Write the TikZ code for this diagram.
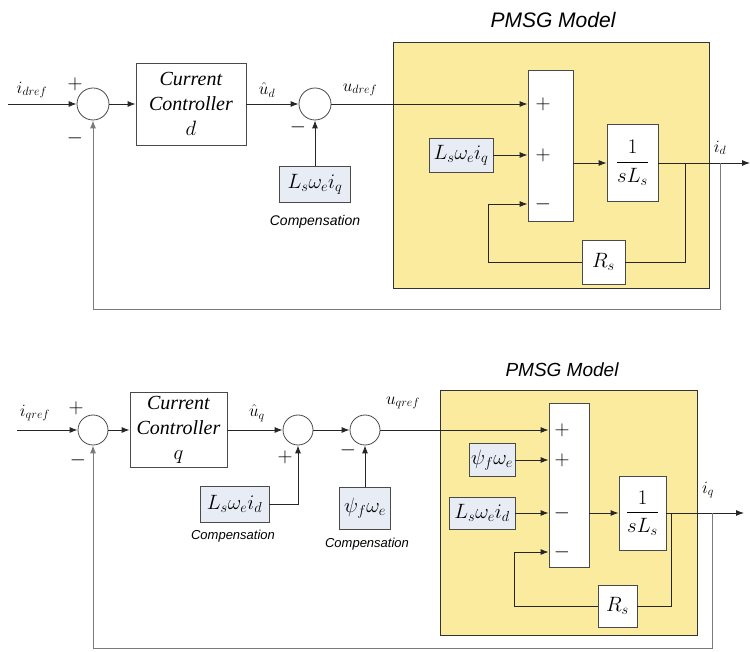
\documentclass[tikz,border=0pt]{standalone}
\usepackage{amsmath}
\usepackage{fontspec}
\setmainfont{Liberation Serif}
\setsansfont{Liberation Sans}
\usepackage{xcolor}
\usepackage{tikz}
\usetikzlibrary{positioning,arrows.meta,calc}
\definecolor{pmsgYellow}{HTML}{FBEB9F}
\definecolor{compFill}{HTML}{E8EDF5}
\definecolor{lineGray}{HTML}{4A4A4A}
\definecolor{fbGray}{HTML}{7A7A7A}
\newcommand{\bigtext}{\fontsize{20}{25}\selectfont}
\newcommand{\labtext}{\fontsize{17}{20}\selectfont}
\newcommand{\ctrltext}[1]{\textit{Current}\\\textit{Controller}\\$#1$}
\tikzset{
  line/.style={draw=black!85,line width=0.9pt},
  arrow/.style={-{Latex[length=8pt,width=6pt]},line width=0.9pt,draw=black!85},
  fback/.style={-{Latex[length=8pt,width=6pt]},line width=1pt,draw=fbGray},
  sumnode/.style={circle,draw=lineGray,fill=white,line width=0.8pt,
    minimum size=32pt,inner sep=0pt},
  ctrlbox/.style={draw=lineGray,fill=white,line width=0.8pt,align=center,
    inner sep=0pt,font=\bigtext},
  compbox/.style={draw=lineGray,fill=compFill,line width=0.8pt,inner sep=0pt,
    font=\bigtext},
  model/.style={draw=black!80,fill=pmsgYellow,line width=1pt,inner sep=0pt},
  sign/.style={font=\fontsize{22}{22}\selectfont,inner sep=0pt},
  siglabel/.style={font=\labtext,inner sep=0pt},
  capt/.style={font=\sffamily\itshape\fontsize{14}{16}\selectfont,inner sep=0pt},
  modeltitle/.style={font=\sffamily\itshape\fontsize{21}{24}\selectfont,inner sep=0pt}
}

\begin{document}
\begin{tikzpicture}[x=1pt,y=-1pt]
  \useasboundingbox (0,0) rectangle (750,652);

  % d-axis loop
  \coordinate (dIn) at (8,104);
  \node[sumnode] (sumA) at (93,104) {};
  \node[ctrlbox, minimum width=110pt, minimum height=82pt] (ccd) at (191,104) {\ctrltext{d}};
  \node[sumnode] (sumB) at (315,104) {};
  \node[compbox, minimum width=71pt, minimum height=36pt] (compd) at (315,184) {$L_s\omega_e i_q$};
  \node[capt] (captd) at (315,222) {Compensation};

  \node[model, minimum width=316pt, minimum height=246pt] (pmsgd) at (551,166) {};
  \node[modeltitle] (titled) at (553,20) {PMSG Model};
  \node[ctrlbox, minimum width=45pt, minimum height=151pt] (addd) at (550.5,145.5) {};
  \node[compbox, minimum width=64pt, minimum height=34pt] (innerd) at (461,155) {$L_s\omega_e i_q$};
  \node[ctrlbox, minimum width=51pt, minimum height=77pt] (plantd) at (632.5,163) {$\dfrac{1}{sL_s}$};
  \node[ctrlbox, minimum width=43pt, minimum height=44pt] (rsd) at (603.5,262) {$R_s$};
  \coordinate (dOut) at (750,163);
  \coordinate (dTap) at (685,163);
  \coordinate (dFb) at (720,163);
  \coordinate (dRet) at (488,204);
  \coordinate (dLow) at (93,310);

  \node[sign] (sa1) at (75,84) {$+$};
  \node[sign] (sa2) at (75,138) {$-$};
  \node[sign] (sb1) at (298,127) {$-$};
  \node[sign] (ad1) at (543,104) {$+$};
  \node[sign] (ad2) at (543,155) {$+$};
  \node[sign] (ad3) at (543,204) {$-$};

  \node[siglabel] (lidref) at (32,90) {$i_{dref}$};
  \node[siglabel] (lud) at (267,90) {$\hat u_d$};
  \node[siglabel] (ludref) at (360,90) {$u_{dref}$};
  \node[siglabel] (lid) at (720,148) {$i_d$};

  \draw[arrow] (dIn) -- (sumA);
  \draw[arrow] (sumA) -- (ccd);
  \draw[arrow] (ccd) -- (sumB);
  \draw[arrow] (compd) -- (sumB);
  \draw[arrow] (sumB) -- (sumB -| addd.west);
  \draw[arrow] (innerd) -- (innerd -| addd.west);
  \draw[arrow] (addd.east |- plantd) -- (plantd);
  \draw[arrow] (plantd) -- (dOut);
  \draw[line] (dTap) |- (rsd);
  \draw[arrow] (rsd) -| (dRet) -- (dRet -| addd.west);
  \draw[fback] (dFb) |- (dLow) -- (sumA);

  % q-axis loop
  \coordinate (qIn) at (17,430);
  \node[sumnode, minimum size=30pt] (sumC) at (93,430) {};
  \node[ctrlbox, minimum width=97pt, minimum height=75pt] (ccq) at (178.5,430) {\ctrltext{q}};
  \node[sumnode, minimum size=30pt] (sumE) at (298,430) {};
  \node[sumnode, minimum size=30pt] (sumF) at (365,430) {};
  \node[compbox, minimum width=69pt, minimum height=36pt] (compq) at (234.5,504) {$L_s\omega_e i_d$};
  \node[compbox, minimum width=51pt, minimum height=42pt] (fluxq) at (365,508) {$\psi_f\omega_e$};
  \node[capt, font=\sffamily\itshape\fontsize{13}{15}\selectfont] (captq1) at (233,536) {Compensation};
  \node[capt, font=\sffamily\itshape\fontsize{13}{15}\selectfont] (captq2) at (367,544) {Compensation};

  \node[model, minimum width=257pt, minimum height=244pt] (pmsgq) at (568.5,513) {};
  \node[modeltitle, font=\sffamily\itshape\fontsize{19}{22}\selectfont] (titleq) at (562,370) {PMSG Model};
  \node[ctrlbox, minimum width=40pt, minimum height=164pt] (addq) at (569,485) {};
  \node[compbox, minimum width=46pt, minimum height=33pt] (fluxin) at (492,460) {$\psi_f\omega_e$};
  \node[compbox, minimum width=66pt, minimum height=32pt] (innerq) at (482,513) {$L_s\omega_e i_d$};
  \node[ctrlbox, minimum width=47pt, minimum height=74pt] (plantq) at (642.5,513) {$\dfrac{1}{sL_s}$};
  \node[ctrlbox, minimum width=39pt, minimum height=42pt] (rsq) at (617.5,606) {$R_s$};
  \coordinate (qOut) at (744,513);
  \coordinate (qTap) at (671,513);
  \coordinate (qFb) at (712,513);
  \coordinate (qRet) at (514,552);
  \coordinate (qLow) at (93,648);

  \node[sign] (sc1) at (76,408) {$+$};
  \node[sign] (sc2) at (78,460) {$-$};
  \node[sign] (se1) at (285,457) {$+$};
  \node[sign] (sf1) at (348,450) {$-$};
  \node[sign] (aq1) at (562,430) {$+$};
  \node[sign] (aq2) at (562,460) {$+$};
  \node[sign] (aq3) at (562,513) {$-$};
  \node[sign] (aq4) at (562,552) {$-$};

  \node[siglabel] (liqref) at (35,413) {$i_{qref}$};
  \node[siglabel] (luq) at (257,413) {$\hat u_q$};
  \node[siglabel] (luqref) at (403,403) {$u_{qref}$};
  \node[siglabel] (liq) at (708,490) {$i_q$};

  \draw[arrow] (qIn) -- (sumC);
  \draw[arrow] (sumC) -- (ccq);
  \draw[arrow] (ccq) -- (sumE);
  \draw[arrow] (sumE) -- (sumF);
  \draw[arrow] (compq) -| (sumE);
  \draw[arrow] (fluxq) -- (sumF);
  \draw[arrow] (sumF) -- (sumF -| addq.west);
  \draw[arrow] (fluxin) -- (fluxin -| addq.west);
  \draw[arrow] (innerq) -- (innerq -| addq.west);
  \draw[arrow] (addq.east |- plantq) -- (plantq);
  \draw[arrow] (plantq) -- (qOut);
  \draw[line] (qTap) |- (rsq);
  \draw[arrow] (rsq) -| (qRet) -- (qRet -| addq.west);
  \draw[fback] (qFb) |- (qLow) -- (sumC);
\end{tikzpicture}
\end{document}
